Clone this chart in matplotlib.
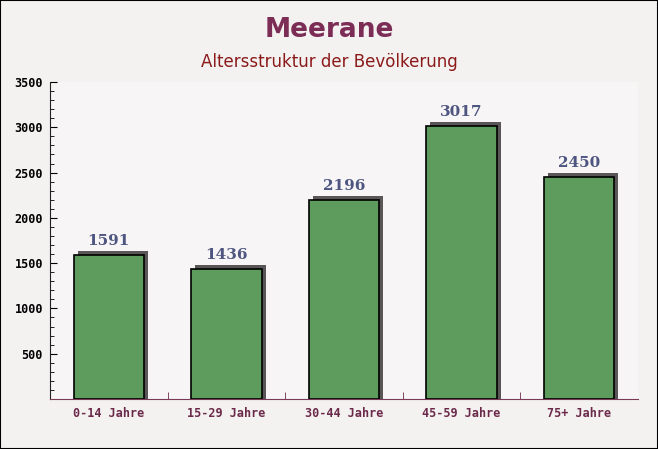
import matplotlib as mpl
mpl.use("Agg")
import matplotlib.pyplot as plt
from matplotlib.transforms import ScaledTranslation
from matplotlib.ticker import MultipleLocator, FixedLocator
import numpy as np

categories = ["0-14 Jahre", "15-29 Jahre", "30-44 Jahre", "45-59 Jahre", "75+ Jahre"]
values = [1591, 1436, 2196, 3017, 2450]
yticks = [500, 1000, 1500, 2000, 2500, 3000, 3500]

fig = plt.figure(figsize=(6.58, 4.49), dpi=100, facecolor="#f4f1f1")
ax = fig.add_axes([50 / 658, 50 / 449, 588 / 658, 317 / 449])
ax.set_facecolor("#f7f5f5")

x = np.arange(len(categories))

# schatten, etwas nach rechts oben versetzt (unten abgeschnitten)
shadow = ax.transData + ScaledTranslation(4 / 100, 4 / 100, fig.dpi_scale_trans)
ax.bar(x, np.array(values) + 100, bottom=-100, width=0.6, color="#5a5556",
       transform=shadow, zorder=2)
ax.bar(x, values, width=0.6, color="#5e9c5e", edgecolor="black", linewidth=1.2, zorder=3)

for xi, v in zip(x, values):
    ax.annotate(str(v), (xi, v), xytext=(0, 5), textcoords="offset points",
                ha="center", va="bottom", fontsize=11, fontweight="bold",
                family="DejaVu Serif", color="#4e5580", zorder=4)

ax.set_xlim(-0.5, len(categories) - 0.5)
ax.set_ylim(0, 3500)
ax.set_xticks(x)
ax.set_xticklabels(categories, family="DejaVu Sans Mono", fontweight="bold",
                   fontsize=8.5, color="#6b2a4a")
ax.xaxis.set_minor_locator(FixedLocator(x[:-1] + 0.5))
ax.tick_params(axis="x", which="major", length=0, pad=6)
ax.tick_params(axis="x", which="minor", direction="in", length=5, color="#6b2a4a")

ax.set_yticks(yticks)
ax.set_yticklabels([str(t) for t in yticks], family="DejaVu Sans Mono",
                   fontweight="bold", fontsize=8.5, color="black")
ax.yaxis.set_minor_locator(MultipleLocator(100))
ax.tick_params(axis="y", which="major", direction="in", length=5, pad=5)
ax.tick_params(axis="y", which="minor", direction="in", length=3)

for s in ["top", "right"]:
    ax.spines[s].set_visible(False)
ax.spines["left"].set_color("#222222")
ax.spines["bottom"].set_color("#7a3a55")

fig.text(0.5, 1 - 30 / 449, "Meerane", ha="center", va="center",
         fontsize=19, fontweight="bold", color="#7b2d55")
fig.text(0.5, 1 - 62 / 449, "Altersstruktur der Bevölkerung", ha="center",
         va="center", fontsize=12, color="#8b1a1a")

fig.patches.append(plt.Rectangle((0, 0), 1, 1, transform=fig.transFigure,
                                 fill=False, edgecolor="black", linewidth=1.5))

plt.savefig("out.png", dpi=100, facecolor=fig.get_facecolor())
